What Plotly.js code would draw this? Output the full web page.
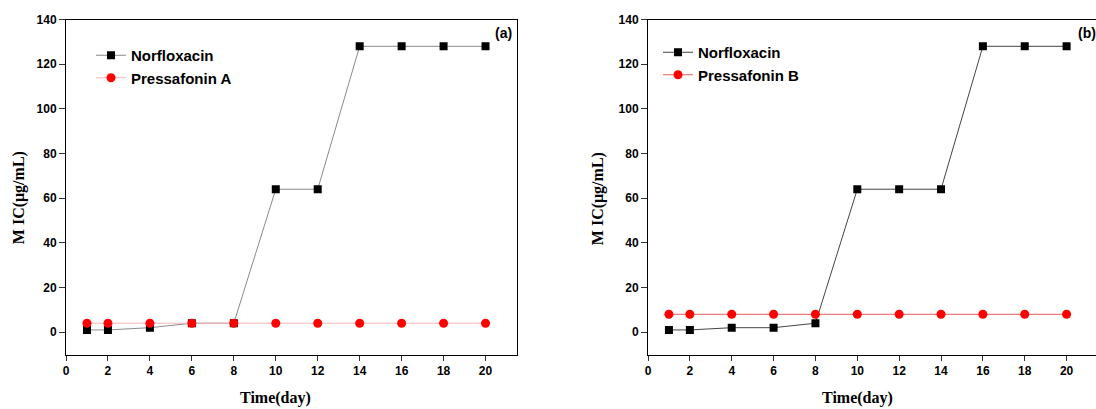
<!DOCTYPE html>
<html>
<head>
<meta charset="utf-8">
<script src="https://cdn.plot.ly/plotly-3.0.1.min.js"></script>
<style>
html,body{margin:0;padding:0;overflow:hidden;background:#fff;}
#chart{width:1100px;height:409px;}
</style>
</head>
<body>
<div id="chart"></div>
<script>
// ---- data ----
const days = [1, 2, 4, 6, 8, 10, 12, 14, 16, 18, 20];
const norfloxacinA = [1, 1, 2, 4, 4, 64, 64, 128, 128, 128, 128];
const pressafoninA = [4, 4, 4, 4, 4, 4, 4, 4, 4, 4, 4];
const norfloxacinB = [1, 1, 2, 2, 4, 64, 64, 64, 128, 128, 128];
const pressafoninB = [8, 8, 8, 8, 8, 8, 8, 8, 8, 8, 8];
const seriesNames = ["Norfloxacin", "Pressafonin A", "Pressafonin B"];
const panelLabels = ["(a)", "(b)"];
const xTitle = "Time(day)";
const yTitle = "M IC(\u03bcg/mL)";

// ---- layout helpers ----
const W = 1100, H = 409;
const px = v => v / W;
const py = v => 1 - v / H;

const sansBold = {family: "Liberation Sans, Arial, sans-serif", size: 12, color: "#000", weight: "bold"};
const serifBold = {family: "Liberation Serif, Times New Roman, serif", size: 16, color: "#000", weight: "bold"};
const legendFont = {family: "Liberation Sans, Arial, sans-serif", size: 15, color: "#000", weight: "bold"};
const panelFont = {family: "Liberation Sans, Arial, sans-serif", size: 14, color: "#000", weight: "bold"};

function xAxis(domain, anchor) {
  return {
    domain: domain, anchor: anchor, range: [0, 21.5],
    tickmode: "linear", tick0: 0, dtick: 2,
    ticks: "outside", ticklen: 5, tickwidth: 1, tickcolor: "#333",
    showline: true, linecolor: "#000", linewidth: 1, mirror: true,
    showgrid: false, zeroline: false, tickfont: sansBold
  };
}
function yAxis(domain, anchor) {
  return {
    domain: domain, anchor: anchor, range: [-10, 140],
    tickmode: "linear", tick0: 0, dtick: 20,
    ticks: "outside", ticklen: 6, tickwidth: 1, tickcolor: "#333",
    showline: true, linecolor: "#000", linewidth: 1, mirror: true,
    showgrid: false, zeroline: false, tickfont: sansBold
  };
}

const traces = [
  {x: days, y: norfloxacinA, name: seriesNames[0], type: "scatter", mode: "lines+markers",
   xaxis: "x", yaxis: "y", legend: "legend",
   line: {color: "#8a8a8a", width: 1}, marker: {symbol: "square", size: 8, color: "#000"}},
  {x: days, y: pressafoninA, name: seriesNames[1], type: "scatter", mode: "lines+markers",
   xaxis: "x", yaxis: "y", legend: "legend",
   line: {color: "#f6b8b8", width: 1}, marker: {symbol: "circle", size: 9, color: "#ff0000"}},
  {x: days, y: norfloxacinB, name: seriesNames[0], type: "scatter", mode: "lines+markers",
   xaxis: "x2", yaxis: "y2", legend: "legend2",
   line: {color: "#444", width: 1}, marker: {symbol: "square", size: 8, color: "#000"}},
  {x: days, y: pressafoninB, name: seriesNames[2], type: "scatter", mode: "lines+markers",
   xaxis: "x2", yaxis: "y2", legend: "legend2",
   line: {color: "#e85a5a", width: 1}, marker: {symbol: "circle", size: 9, color: "#ff0000"}}
];

const yDom = [py(354.5), py(19.5)];
const layout = {
  width: W, height: H,
  margin: {l: 0, r: 0, t: 0, b: 0, pad: 0},
  paper_bgcolor: "#fff", plot_bgcolor: "#fff",
  showlegend: true,
  xaxis: xAxis([px(66), px(517)], "y"),
  yaxis: yAxis(yDom, "x"),
  xaxis2: xAxis([px(648), px(1098)], "y2"),
  yaxis2: yAxis(yDom, "x2"),
  legend: {x: px(91), y: py(39), xanchor: "left", yanchor: "top", font: legendFont,
           bgcolor: "rgba(0,0,0,0)", tracegroupgap: 0, itemwidth: 30},
  legend2: {x: px(658), y: py(36), xanchor: "left", yanchor: "top", font: legendFont,
            bgcolor: "rgba(0,0,0,0)", tracegroupgap: 0, itemwidth: 30},
  annotations: [
    {text: panelLabels[0], xref: "paper", yref: "paper", x: px(503), y: py(33), xanchor: "center", yanchor: "middle",
     showarrow: false, font: panelFont},
    {text: panelLabels[1], xref: "paper", yref: "paper", x: px(1087), y: py(33), xanchor: "center", yanchor: "middle",
     showarrow: false, font: panelFont},
    {text: xTitle, xref: "x", yref: "paper", x: 10, y: py(398), xanchor: "center", yanchor: "middle",
     showarrow: false, font: serifBold},
    {text: xTitle, xref: "x2", yref: "paper", x: 10, y: py(398), xanchor: "center", yanchor: "middle",
     showarrow: false, font: serifBold},
    {text: yTitle, xref: "paper", yref: "y", x: px(19), y: 60, xanchor: "center", yanchor: "middle",
     textangle: -90, showarrow: false, font: serifBold},
    {text: yTitle, xref: "paper", yref: "y2", x: px(598), y: 60, xanchor: "center", yanchor: "middle",
     textangle: -90, showarrow: false, font: serifBold}
  ]
};

Plotly.newPlot("chart", traces, layout, {displayModeBar: false, staticPlot: true});
</script>
</body>
</html>
